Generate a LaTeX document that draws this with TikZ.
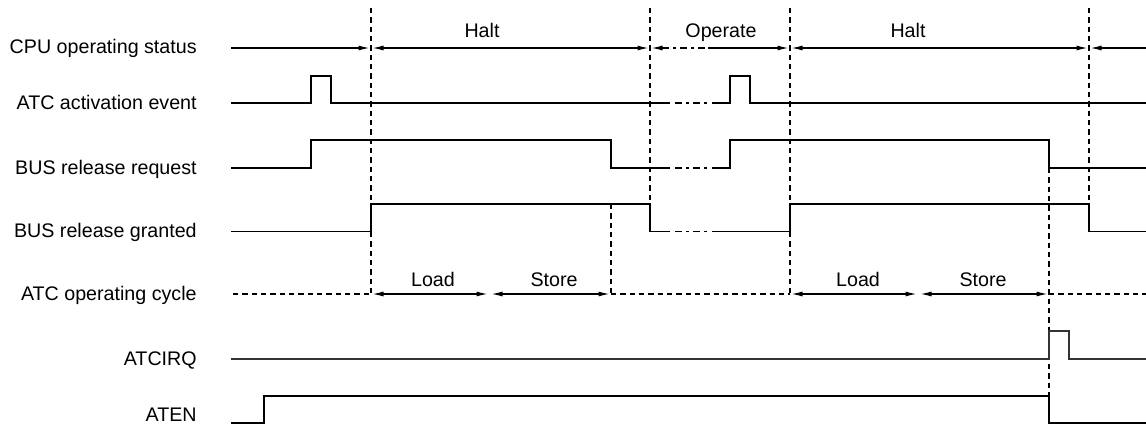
\documentclass[tikz,border=0pt]{standalone}
\usepackage{fontspec}
\setmainfont{Liberation Sans}
\usetikzlibrary{arrows.meta}
\begin{document}
\begin{tikzpicture}[x=0.6pt,y=-0.6pt,
  sig/.style={line width=1.1pt, line join=miter},
  irq/.style={line width=0.8pt, black!80, line join=miter},
  thinln/.style={line width=0.7pt},
  guide/.style={line width=1pt, dash pattern=on 3.2pt off 2.4pt},
  brk/.style={dash pattern=on 4.2pt off 2.4pt on 1.8pt off 2.4pt},
  lbl/.style={font=\fontsize{11.8pt}{14pt}\selectfont, inner sep=0pt, anchor=base east},
  txt/.style={font=\fontsize{11.8pt}{14pt}\selectfont, inner sep=0pt, anchor=base},
  tipend/.style={-{Latex[length=6.6pt,width=3pt]}},
  tipboth/.style={{Latex[length=6.6pt,width=3pt]}-{Latex[length=6.6pt,width=3pt]}},
]
\useasboundingbox (0,0) rectangle (1146,431);
\fill[white] (0,0) rectangle (1146,431);

% labels
\node[lbl] (lcpu) at (197,53.5) {CPU operating status};
\node[lbl] (lact) at (197,109.5) {ATC activation event};
\node[lbl] (lreq) at (197,174) {BUS release request};
\node[lbl] (lgnt) at (197,237.5) {BUS release granted};
\node[lbl] (lcyc) at (197,300.5) {ATC operating cycle};
\node[lbl] (lirq) at (197,365.5) {ATCIRQ};
\node[lbl] (laten) at (197,421) {ATEN};

% vertical guides
\draw[guide] (371,8) -- (371,294);
\draw[guide] (611,204) -- (611,294);
\draw[guide] (650,8) -- (650,204);
\draw[guide] (790,8) -- (790,294);
\draw[guide] (1049,168) -- (1049,396);
\draw[guide] (1089,8) -- (1089,204);

% CPU operating status
\draw[thinln,tipend] (231,48) -- (369.5,48);
\draw[thinln,tipboth] (372.5,48) -- (648.5,48);
\draw[thinln,tipend] (662,48) -- (651.5,48);
\draw[thinln,brk] (662,48) -- (708,48);
\draw[thinln,tipend] (708,48) -- (788.5,48);
\draw[thinln,tipboth] (791.5,48) -- (1087.5,48);
\draw[thinln,tipend] (1146,48) -- (1090.5,48);
\node[txt] (thalt1) at (482,37.5) {Halt};
\node[txt] (toper) at (721,37.5) {Operate};
\node[txt] (thalt2) at (908,37.5) {Halt};

% ATC activation event
\draw[sig] (231,103) -- (311,103) -- (311,76) -- (331,76) -- (331,103) -- (670,103);
\draw[sig,brk] (675,103) -- (708,103);
\draw[sig] (712,103) -- (730,103) -- (730,76) -- (750,76) -- (750,103) -- (1146,103);

% BUS release request
\draw[sig] (231,168) -- (311,168) -- (311,140) -- (611,140) -- (611,168) -- (670,168);
\draw[sig,brk] (675,168) -- (708,168);
\draw[sig] (712,168) -- (730,168) -- (730,140) -- (1049,140) -- (1049,168) -- (1146,168);

% BUS release granted
\draw[sig] (231,231.5) -- (371,231.5) -- (371,204) -- (650,204) -- (650,231.5) -- (670,231.5);
\draw[sig,brk] (675,231.5) -- (708,231.5);
\draw[sig] (712,231.5) -- (790,231.5) -- (790,204) -- (1089,204) -- (1089,231.5) -- (1146,231.5);

% ATC operating cycle
\draw[guide] (233,294) -- (371,294);
\draw[thinln,tipboth] (372.5,294) -- (487.5,294);
\draw[thinln,tipboth] (491.5,294) -- (609.5,294);
\draw[guide] (611,294) -- (790,294);
\draw[thinln,tipboth] (791.5,294) -- (916.5,294);
\draw[thinln,tipboth] (920.5,294) -- (1047.5,294);
\draw[guide] (1049,294) -- (1146,294);
\node[txt] (tload1) at (433,286.7) {Load};
\node[txt] (tstore1) at (554,286.7) {Store};
\node[txt] (tload2) at (858,286.7) {Load};
\node[txt] (tstore2) at (983,286.7) {Store};

% ATCIRQ
\draw[irq] (231,359) -- (1049,359) -- (1049,331) -- (1069,331) -- (1069,359) -- (1146,359);

% ATEN
\draw[sig] (231,423) -- (264,423) -- (264,396) -- (1049,396) -- (1049,423) -- (1146,423);
\end{tikzpicture}
\end{document}
